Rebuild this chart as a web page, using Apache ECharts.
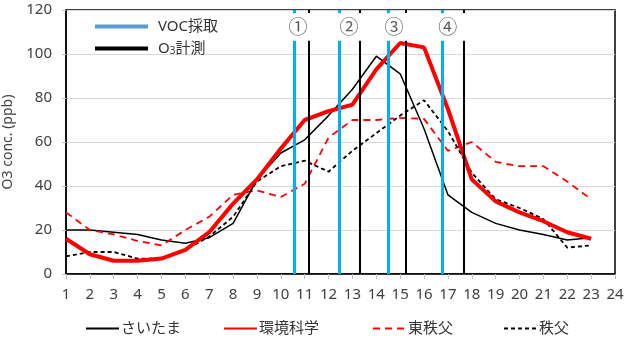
<!DOCTYPE html>
<html>
<head>
<meta charset="utf-8">
<script src="https://cdn.jsdelivr.net/npm/echarts@6/dist/echarts.min.js"></script>
<style>
  html, body { margin: 0; padding: 0; background: #fff; }
  #chart { width: 631px; height: 338px; }
</style>
</head>
<body>
<div id="chart"></div>
<script>
// Hourly O3 concentration (ppb) at four stations
const hours = [1,2,3,4,5,6,7,8,9,10,11,12,13,14,15,16,17,18,19,20,21,22,23];
const saitama  = [20,20,19,18,15.5,14,16.5,23,43,55,61,72,84,99,91,66,36,28,23,20,18,15.5,16.5];
const kankyo   = [16,9,6,6,7,11,19,32,43,57,70,74,77,93,105,103,75,43,33,28,24,19,16];
const higashi  = [28,20,18,15,13,20,26,36,38,35,41,62,70,70,71,70.5,56,60,51,49,49,42,34];
const chichibu = [8,10,10,7,7,11,17,26,42,49,51.5,46.5,56,64,72,79,65,46,34,30,25,12,13];

// Sampling / measurement times (hour of day) and their labels
const vocTimes = [10.55, 12.44, 14.50, 16.76];
const o3Times  = [11.18, 13.30, 15.24, 17.66];
const runLabels = ['①', '②', '③', '④'];
const runLabelX = [10.72, 12.86, 14.74, 16.99];

const yTicks = { min: 0, max: 120, interval: 20 };
const xTicks = { min: 1, max: 24, interval: 1 };

const FONT = '"Noto Sans", "Noto Sans CJK JP", sans-serif';

const pair = (v, rows) => v.map((y, i) => [rows[i], y]);

// vertical markers: long lower part plus a short stub at the top, leaving room for the run number
function verticals(times) {
  const segs = [];
  times.forEach(t => {
    segs.push([{ coord: [t, 0] }, { coord: [t, 106] }]);
    segs.push([{ coord: [t, 118.6] }, { coord: [t, 120] }]);
  });
  return segs;
}

const bottomLegend = (name, left) => ({
  left, top: 316, itemWidth: 33, itemHeight: 14, data: [name],
  itemStyle: { opacity: 0 },
  textStyle: { fontSize: 15, color: '#333', fontFamily: FONT, padding: [0, 0, 0, -3] }
});

const chart = echarts.init(document.getElementById('chart'), null, { renderer: 'canvas' });

chart.setOption({
  animation: false,
  textStyle: { fontFamily: FONT },
  grid: {
    left: 66, right: 16, top: 10, bottom: 64, outerBoundsMode: 'none',
    show: true, borderColor: '#000', borderWidth: 1.5, backgroundColor: 'transparent'
  },
  xAxis: {
    type: 'value', min: xTicks.min, max: xTicks.max, interval: xTicks.interval,
    axisLine: { show: true, lineStyle: { color: '#000', width: 1.5 } },
    axisTick: { show: true, length: 5, lineStyle: { color: '#bfbfbf' } },
    axisLabel: { color: '#404040', fontSize: 15, margin: 13, fontFamily: FONT },
    splitLine: { show: false }
  },
  yAxis: {
    type: 'value', min: yTicks.min, max: yTicks.max, interval: yTicks.interval,
    name: 'O3 conc. (ppb)', nameLocation: 'middle', nameGap: 46, nameRotate: 90,
    nameTextStyle: { color: '#404040', fontSize: 14, fontFamily: FONT },
    axisLine: { show: true, lineStyle: { color: '#000', width: 1.5 } },
    axisTick: { show: true, length: 4, lineStyle: { color: '#bfbfbf' } },
    axisLabel: { color: '#404040', fontSize: 15, margin: 14, fontFamily: FONT },
    splitLine: { show: true, lineStyle: { color: '#d9d9d9', width: 1 } }
  },
  legend: [
    {
      left: 90, top: 14, orient: 'vertical', itemGap: 7,
      itemWidth: 53, itemHeight: 4,
      textStyle: { fontSize: 15, color: '#333', fontFamily: FONT, padding: [0, 0, 0, 5],
        rich: { sub: { fontSize: 10, color: '#333', verticalAlign: 'bottom', padding: [6, 0, 0, 0] } } },
      formatter: n => n === 'O3計測' ? 'O{sub|3}計測' : n,
      data: [
        { name: 'VOC採取', icon: 'rect', itemStyle: { color: '#5B9BD5' } },
        { name: 'O3計測', icon: 'rect', itemStyle: { color: '#000' } }
      ]
    },
    bottomLegend('さいたま', 80),
    bottomLegend('環境科学', 218),
    bottomLegend('東秩父', 367),
    bottomLegend('秩父', 498)
  ],
  series: [
    {
      name: 'VOC採取', type: 'line', data: [], color: '#5B9BD5', silent: true,
      markLine: {
        silent: true, symbol: ['none', 'none'], label: { show: false },
        lineStyle: { color: '#00B0F0', width: 3, type: 'solid' },
        data: verticals(vocTimes)
      }
    },
    {
      name: 'O3計測', type: 'line', data: [], color: '#000', silent: true,
      markLine: {
        silent: true, symbol: ['none', 'none'], label: { show: false },
        lineStyle: { color: '#000', width: 2, type: 'solid' },
        data: verticals(o3Times)
      }
    },
    {
      name: 'さいたま', type: 'line', data: pair(saitama, hours), symbol: 'none',
      color: '#000', lineStyle: { color: '#000', width: 1.5 }, z: 3
    },
    {
      name: '東秩父', type: 'line', data: pair(higashi, hours), symbol: 'none',
      color: '#ff0000', lineStyle: { color: '#ff0000', width: 1.8, type: [7, 5] }, z: 3
    },
    {
      name: '秩父', type: 'line', data: pair(chichibu, hours), symbol: 'none',
      color: '#000', lineStyle: { color: '#000', width: 1.8, type: [4, 3] }, z: 3
    },
    {
      name: '環境科学', type: 'line', data: pair(kankyo, hours), symbol: 'none',
      color: '#ff0000', lineStyle: { color: '#ff0000', width: 4 }, z: 4
    },
    {
      name: 'runs', type: 'scatter', symbolSize: 0, silent: true, z: 5,
      data: runLabelX.map((x, i) => [x, 112.3, runLabels[i]]),
      label: {
        show: true, position: 'inside', formatter: p => p.value[2],
        fontSize: 19, color: '#333', fontFamily: '"Noto Sans CJK JP", sans-serif'
      }
    }
  ]
});
</script>
</body>
</html>
